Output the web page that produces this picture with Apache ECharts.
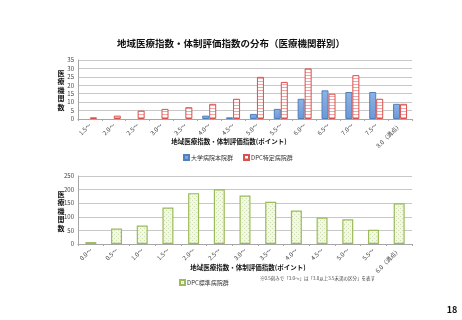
<!DOCTYPE html>
<html>
<head>
<meta charset="utf-8">
<script src="https://cdn.jsdelivr.net/npm/echarts@6/dist/echarts.min.js"></script>
<style>
html, body { margin: 0; background: #fff; }
#main { width: 462px; height: 320px; }
</style>
</head>
<body>
<div id="main"></div>
<script>
// 上段: 大学病院本院群 / DPC特定病院群
var topCategories = ['1.5〜', '2.0〜', '2.5〜', '3.0〜', '3.5〜', '4.0〜', '4.5〜', '5.0〜', '5.5〜', '6.0〜', '6.5〜', '7.0〜', '7.5〜', '8.0（満点）'];
var univValues = [0, 0, 0, 0, 0, 2, 1, 3, 6, 12, 17, 16, 16, 9];
var dpcSpecialValues = [1, 2, 5, 6, 7, 9, 12, 25, 22, 30, 15, 26, 12, 9];
var topTicks = [0, 35, 5];

// 下段: DPC標準病院群
var bottomCategories = ['0.0〜', '0.5〜', '1.0〜', '1.5〜', '2.0〜', '2.5〜', '3.0〜', '3.5〜', '4.0〜', '4.5〜', '5.0〜', '5.5〜', '6.0（満点）'];
var dpcStandardValues = [7, 57, 68, 134, 187, 201, 178, 155, 123, 97, 91, 52, 150];
var bottomTicks = [0, 250, 50];

var font = '"Noto Sans CJK JP", "Noto Sans", sans-serif';
var axisName = '地域医療指数・体制評価指数(ポイント)';
var yName = '医療機関数';

// 0件は棒を描かない
function noZero(arr) {
    return arr.map(function (v) { return v === 0 ? null : v; });
}

// 横縞パターン (赤)
function stripePattern() {
    var c = document.createElement('canvas');
    c.width = 4; c.height = 3;
    var ctx = c.getContext('2d');
    ctx.fillStyle = '#ffffff';
    ctx.fillRect(0, 0, 4, 3);
    ctx.fillStyle = '#f1a7a5';
    ctx.fillRect(0, 0, 4, 1);
    return c;
}
// 点パターン (緑)
function dotPattern() {
    var c = document.createElement('canvas');
    c.width = 4; c.height = 4;
    var ctx = c.getContext('2d');
    ctx.fillStyle = '#f3f7ea';
    ctx.fillRect(0, 0, 4, 4);
    ctx.fillStyle = '#cfdfad';
    ctx.fillRect(0, 0, 1, 1);
    ctx.fillRect(2, 2, 1, 1);
    return c;
}

var gridLine = { lineStyle: { color: '#c8c8c8', width: 1 } };
var axisLine = { lineStyle: { color: '#a6a6a6' } };

function yAxis(idx, ticks) {
    return {
        type: 'value', gridIndex: idx,
        min: ticks[0], max: ticks[1], interval: ticks[2],
        axisLabel: { fontSize: 6, color: '#444', margin: 4 },
        axisLine: { show: true, lineStyle: { color: '#a6a6a6' } },
        splitLine: gridLine
    };
}
function xAxis(idx, cats) {
    return {
        type: 'category', gridIndex: idx, data: cats,
        axisLine: axisLine,
        axisTick: { show: true, length: 2, lineStyle: { color: '#a6a6a6' } },
        axisLabel: { rotate: 45, fontSize: 6, fontFamily: font, color: '#444', margin: 5, interval: 0 }
    };
}
function label(text, x, y, size, extra) {
    var style = { text: text, fontFamily: font, fontSize: size, fontWeight: 'bold', fill: '#111', align: 'center', verticalAlign: 'middle' };
    for (var k in extra) style[k] = extra[k];
    return { type: 'text', x: x, y: y, style: style };
}
// 縦書きの軸名 (1文字ずつ)
function verticalName(text, x, yCenter) {
    var step = 8.5;
    var y0 = yCenter - step * (text.length - 1) / 2;
    return text.split('').map(function (ch, i) {
        return label(ch, x, y0 + i * step, 7);
    });
}

var graphics = [
    label('地域医療指数・体制評価指数の分布（医療機関群別）', 231, 43, 9.5),
    label(axisName, 229, 142, 6.5),
    label(axisName, 248, 268, 6.5),
    label('※0.5刻みで「3.0〜」は「3.0以上3.5未満の区分」を表す', 260, 278, 4.5, { fontWeight: 'normal', fill: '#444', align: 'left' }),
    label('18', 452, 310, 9)
].concat(verticalName(yName, 61, 90), verticalName(yName, 61, 211));

var chart = echarts.init(document.getElementById('main'));
chart.setOption({
    animation: false,
    textStyle: { fontFamily: font },
    grid: [
        { left: 78, right: 50, top: 60, height: 59 },
        { left: 78, right: 50, top: 176, height: 68 }
    ],
    xAxis: [xAxis(0, topCategories), xAxis(1, bottomCategories)],
    yAxis: [yAxis(0, topTicks), yAxis(1, bottomTicks)],
    legend: [
        {
            left: 178, top: 149, itemWidth: 5, itemHeight: 5, itemGap: 10, icon: 'rect',
            textStyle: { fontSize: 6, color: '#333', padding: [0, 0, 0, -3] },
            data: ['大学病院本院群', 'DPC特定病院群']
        },
        {
            left: 174, top: 274, itemWidth: 5, itemHeight: 5, icon: 'rect',
            textStyle: { fontSize: 6, color: '#333', padding: [0, 0, 0, -3] },
            data: ['DPC標準病院群']
        }
    ],
    series: [
        {
            name: '大学病院本院群', type: 'bar', xAxisIndex: 0, yAxisIndex: 0,
            data: noZero(univValues), barWidth: 7, barGap: '0%',
            itemStyle: {
                color: new echarts.graphic.LinearGradient(0, 0, 0, 1, [
                    { offset: 0, color: '#8db3e6' }, { offset: 1, color: '#6b98d6' }
                ]),
                borderColor: '#4f81bd', borderWidth: 1
            }
        },
        {
            name: 'DPC特定病院群', type: 'bar', xAxisIndex: 0, yAxisIndex: 0,
            data: noZero(dpcSpecialValues), barWidth: 7,
            itemStyle: {
                color: { image: stripePattern(), repeat: 'repeat' },
                borderColor: '#d9504d', borderWidth: 1
            }
        },
        {
            name: 'DPC標準病院群', type: 'bar', xAxisIndex: 1, yAxisIndex: 1,
            data: noZero(dpcStandardValues), barWidth: 11,
            itemStyle: {
                color: { image: dotPattern(), repeat: 'repeat' },
                borderColor: '#9bbb59', borderWidth: 1.2
            }
        }
    ],
    graphic: graphics
});
</script>
</body>
</html>
